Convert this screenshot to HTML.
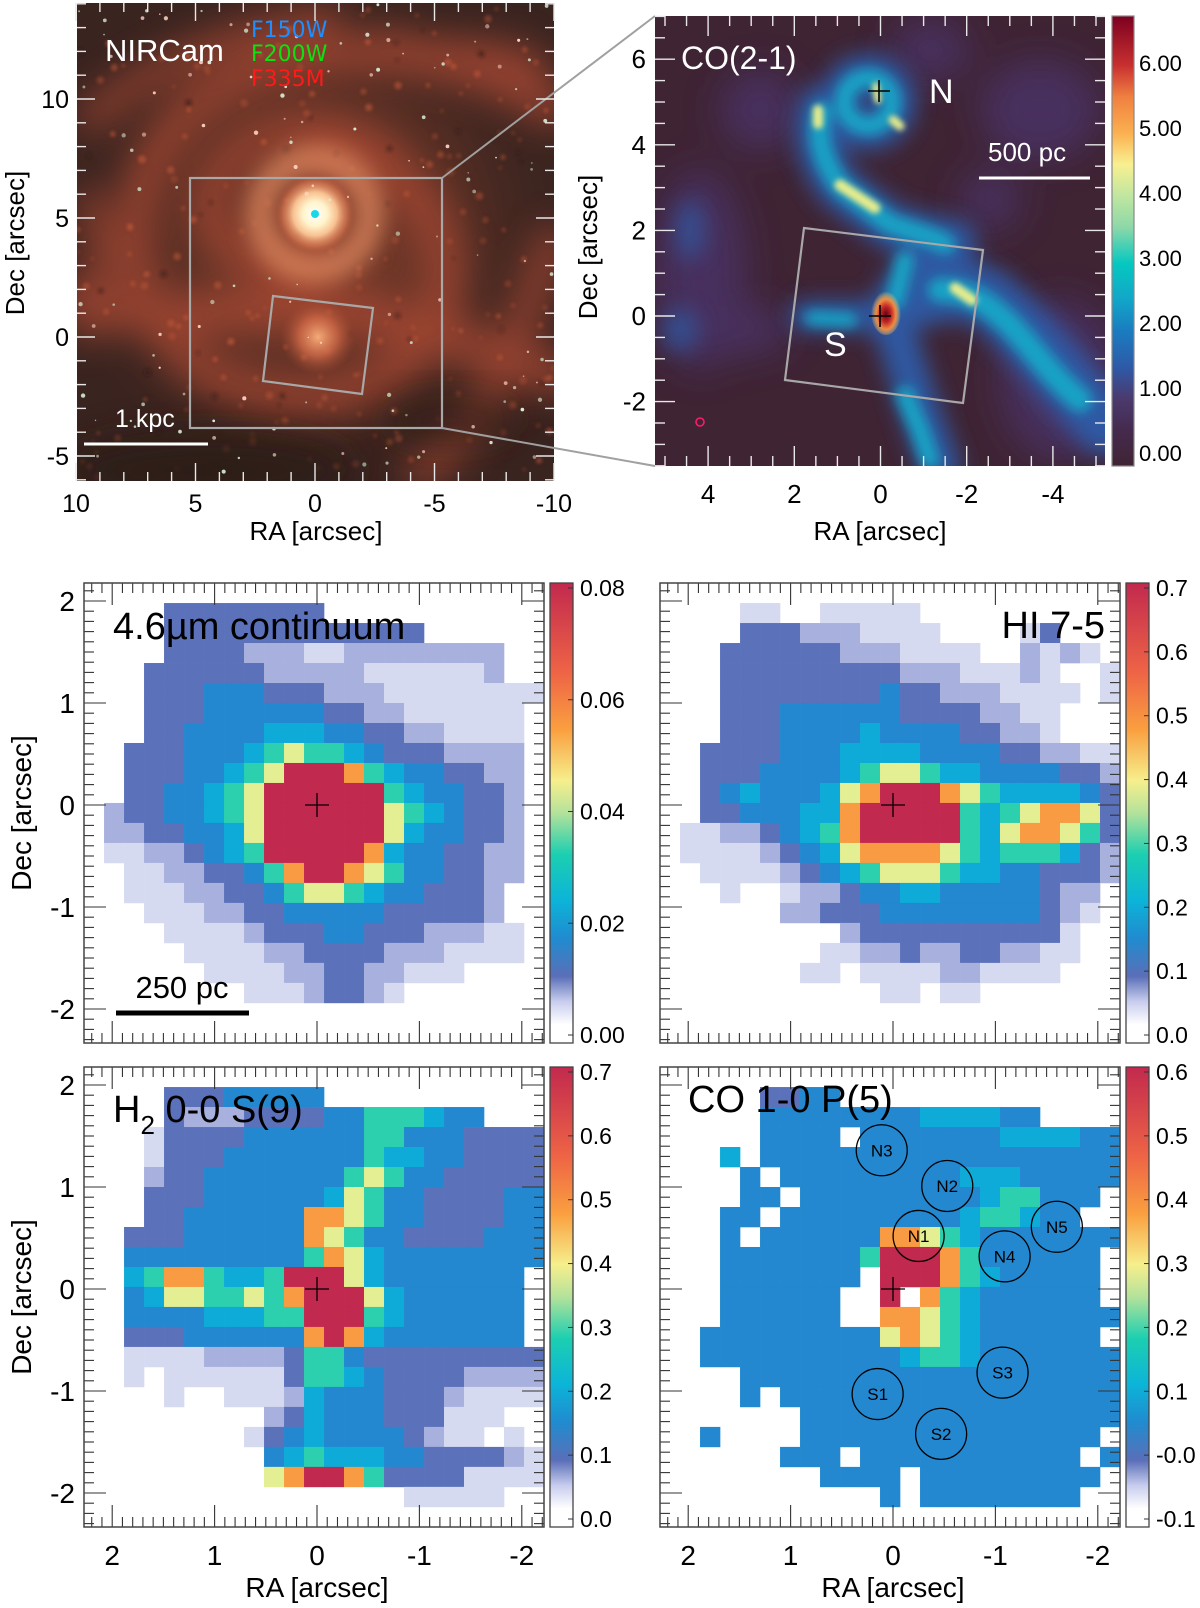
<!DOCTYPE html>
<html><head><meta charset="utf-8"><title>NIRCam / CO / NIRSpec maps</title>
<style>
html,body{margin:0;padding:0;background:#fff;}
svg{display:block;font-family:"Liberation Sans","DejaVu Sans",sans-serif;}
</style></head>
<body>
<svg id="fig" width="1200" height="1608" viewBox="0 0 1200 1608" xmlns="http://www.w3.org/2000/svg">
<defs>
  <filter id="b2" x="-50%" y="-50%" width="200%" height="200%"><feGaussianBlur stdDeviation="1.5"/></filter>
  <filter id="b3" x="-50%" y="-50%" width="200%" height="200%"><feGaussianBlur stdDeviation="3"/></filter>
  <filter id="b5" x="-50%" y="-50%" width="200%" height="200%"><feGaussianBlur stdDeviation="6"/></filter>
  <filter id="b9" x="-50%" y="-50%" width="200%" height="200%"><feGaussianBlur stdDeviation="11"/></filter>
  <filter id="b16" x="-50%" y="-50%" width="200%" height="200%"><feGaussianBlur stdDeviation="18"/></filter>
  <clipPath id="clip1"><rect x="77" y="3" width="477" height="478"/></clipPath>
  <clipPath id="clip2"><rect x="655" y="16" width="450" height="450"/></clipPath>
  <radialGradient id="gBig" cx="0.5" cy="0.5" r="0.5">
    <stop offset="0" stop-color="#a04a32" stop-opacity="0.85"/>
    <stop offset="0.55" stop-color="#743828" stop-opacity="0.5"/>
    <stop offset="1" stop-color="#3b2520" stop-opacity="0"/>
  </radialGradient>
  <radialGradient id="gCore" cx="0.5" cy="0.5" r="0.5">
    <stop offset="0" stop-color="#ffffff"/>
    <stop offset="0.3" stop-color="#fff4cc"/>
    <stop offset="0.55" stop-color="#f8c090"/>
    <stop offset="0.8" stop-color="#e08058" stop-opacity="0.6"/>
    <stop offset="1" stop-color="#b05038" stop-opacity="0"/>
  </radialGradient>
  <radialGradient id="gSouth" cx="0.5" cy="0.5" r="0.5">
    <stop offset="0" stop-color="#f4aa78"/>
    <stop offset="0.5" stop-color="#d06a48" stop-opacity="0.8"/>
    <stop offset="1" stop-color="#a04a32" stop-opacity="0"/>
  </radialGradient>
  <radialGradient id="gRed" cx="0.5" cy="0.55" r="0.5">
    <stop offset="0" stop-color="#6a0010"/>
    <stop offset="0.35" stop-color="#c02828"/>
    <stop offset="0.65" stop-color="#f08a40"/>
    <stop offset="1" stop-color="#f6d070" stop-opacity="0"/>
  </radialGradient>
  <linearGradient id="cbTop" x1="0" y1="1" x2="0" y2="0">
    <stop offset="0" stop-color="#3f2434"/>
    <stop offset="0.08" stop-color="#452a4e"/>
    <stop offset="0.15" stop-color="#4b3a6e"/>
    <stop offset="0.22" stop-color="#2e5aa8"/>
    <stop offset="0.30" stop-color="#1a7cc0"/>
    <stop offset="0.37" stop-color="#12a6c8"/>
    <stop offset="0.45" stop-color="#05c8c0"/>
    <stop offset="0.53" stop-color="#8cd8a8"/>
    <stop offset="0.60" stop-color="#c0e6a0"/>
    <stop offset="0.67" stop-color="#f8f090"/>
    <stop offset="0.74" stop-color="#fbb050"/>
    <stop offset="0.82" stop-color="#f08040"/>
    <stop offset="0.89" stop-color="#c83030"/>
    <stop offset="1" stop-color="#7c0020"/>
  </linearGradient>
  <linearGradient id="cbBot" x1="0" y1="1" x2="0" y2="0">
    <stop offset="0" stop-color="#ffffff"/>
    <stop offset="0.04" stop-color="#ffffff"/>
    <stop offset="0.09" stop-color="#c8cdee"/>
    <stop offset="0.145" stop-color="#5a6fb8"/>
    <stop offset="0.23" stop-color="#1f8cd0"/>
    <stop offset="0.31" stop-color="#0cb4d8"/>
    <stop offset="0.41" stop-color="#1ccfb0"/>
    <stop offset="0.50" stop-color="#b4e29a"/>
    <stop offset="0.57" stop-color="#f6ef8c"/>
    <stop offset="0.68" stop-color="#faa040"/>
    <stop offset="0.80" stop-color="#ef6645"/>
    <stop offset="1" stop-color="#c2294e"/>
  </linearGradient>
</defs>

<!-- ============ Panel 1: NIRCam composite ============ -->
<g>
  <g clip-path="url(#clip1)">
    <rect x="77" y="3" width="477" height="478" fill="#3a2420"/>
    <circle cx="315" cy="235" r="270" fill="url(#gBig)"/>
    <g fill="none" stroke="#b04c34" stroke-linecap="round" filter="url(#b16)" opacity="0.75">
      <path d="M315,160 C420,150 470,250 430,330 C390,410 250,420 180,350 C110,280 120,150 220,90 C320,30 460,50 554,110" stroke-width="36"/>
      <path d="M315,268 C220,272 180,210 230,160 C280,110 380,120 410,190" stroke-width="28"/>
      <path d="M76,300 C150,330 250,300 330,310 C420,320 480,350 554,375" stroke-width="40"/>
      <path d="M90,120 C150,60 250,30 330,20" stroke-width="26"/>
      <path d="M554,240 C520,320 500,420 420,470" stroke-width="30"/>
      <path d="M380,40 C450,60 500,40 540,70" stroke-width="24"/>
      <path d="M90,200 C110,260 100,300 90,330" stroke-width="24"/>
    </g>
    <g id="clumps" filter="url(#b2)"></g>
    <ellipse cx="210" cy="470" rx="150" ry="40" fill="#2c1a17" filter="url(#b16)" opacity="0.8"/>
    <ellipse cx="450" cy="420" rx="70" ry="25" fill="#2c1a17" filter="url(#b16)" opacity="0.6"/>
    <circle cx="315" cy="214" r="55" fill="none" stroke="#e08a60" stroke-width="28" filter="url(#b9)" opacity="0.75"/>
    <circle cx="318" cy="337" r="38" fill="url(#gSouth)"/>
    <circle cx="315" cy="214" r="40" fill="url(#gCore)"/>
    <circle cx="315" cy="214" r="4" fill="#18d8e8"/>
    <g id="stars"></g>
  </g>
  <rect x="190" y="178" width="252" height="250" fill="none" stroke="#a8a8a8" stroke-width="2.2"/>
  <polygon points="273,296 373,308 362,394 263,381" fill="none" stroke="#a8a8a8" stroke-width="2.2"/>
  <line x1="442" y1="178" x2="655" y2="16" stroke="#a0a0a0" stroke-width="2"/>
  <line x1="442" y1="428" x2="655" y2="466" stroke="#a0a0a0" stroke-width="2"/>
  <text x="105" y="61" font-size="31" fill="#ffffff">NIRCam</text>
  <text x="251" y="37" font-size="22" fill="#1e8fff" font-family="DejaVu Sans, sans-serif">F150W</text>
  <text x="251" y="61" font-size="22" fill="#10e010" font-family="DejaVu Sans, sans-serif">F200W</text>
  <text x="251" y="86" font-size="22" fill="#ff1a1a" font-family="DejaVu Sans, sans-serif">F335M</text>
  <line x1="84" y1="444" x2="208" y2="444" stroke="#ffffff" stroke-width="3"/>
  <text x="115" y="427" font-size="25" fill="#ffffff">1 kpc</text>
  <g id="ticks1"></g>
  <text x="316" y="540" font-size="26" text-anchor="middle">RA [arcsec]</text>
  <text transform="translate(24,243) rotate(-90)" font-size="26" text-anchor="middle">Dec [arcsec]</text>
</g>

<!-- ============ Panel 2: CO(2-1) ============ -->
<g>
  <g clip-path="url(#clip2)">
    <rect x="655" y="16" width="450" height="450" fill="#3f2434"/>
    <g fill="#4a3264" filter="url(#b16)" opacity="0.9">
      <ellipse cx="700" cy="270" rx="45" ry="100"/>
      <ellipse cx="1040" cy="110" rx="60" ry="50"/>
      <ellipse cx="1060" cy="380" rx="60" ry="80"/>
      <ellipse cx="760" cy="110" rx="40" ry="40"/>
      <ellipse cx="990" cy="200" rx="30" ry="30"/>
      <ellipse cx="740" cy="330" rx="50" ry="25"/>
      <ellipse cx="930" cy="50" rx="40" ry="30"/>
    </g>
    <g fill="#2f5ca8" filter="url(#b9)" opacity="0.7">
      <ellipse cx="680" cy="330" rx="18" ry="22"/>
      <ellipse cx="690" cy="230" rx="14" ry="30"/>
    </g>
    <g fill="none" stroke-linecap="round" stroke-linejoin="round">
      <g stroke="#2f5ca8" filter="url(#b9)" opacity="0.95">
        <path d="M820,108 C812,140 822,165 840,188 L890,226 C915,234 940,240 955,242 L920,262 L905,295 L886,318" stroke-width="44"/>
        <path d="M905,300 C940,290 970,285 990,300 C1015,320 1040,350 1070,385 L1105,425" stroke-width="60"/>
        <path d="M895,330 L912,385 L925,425 L940,466" stroke-width="40"/>
        <path d="M805,316 L870,316" stroke-width="30"/>
        <circle cx="868" cy="102" r="28" stroke-width="40"/>
      </g>
      <g stroke="#14a8c8" filter="url(#b5)" opacity="0.95">
        <path d="M822,112 C815,140 824,162 840,186 L890,224 C915,232 935,238 945,244" stroke-width="20"/>
        <path d="M940,290 C965,290 985,300 1010,325 C1030,345 1050,375 1080,400" stroke-width="24"/>
        <path d="M905,395 L920,430 L930,460" stroke-width="18"/>
        <path d="M812,318 L850,320" stroke-width="14"/>
        <circle cx="868" cy="102" r="24" stroke-width="18"/>
        <path d="M905,260 L895,300" stroke-width="18"/>
      </g>
      <g stroke="#e8ec8c" filter="url(#b3)">
        <path d="M840,185 L875,208" stroke-width="11"/>
        <path d="M818,110 L818,124" stroke-width="10"/>
        <path d="M955,288 L972,300" stroke-width="11"/>
        <path d="M893,120 L900,126" stroke-width="9"/>
        <path d="M876,86 L878,100" stroke-width="7"/>
      </g>
    </g>
    <ellipse cx="886" cy="312" rx="15" ry="23" fill="url(#gRed)"/>
    <circle cx="700" cy="422" r="4" fill="none" stroke="#ff1a6a" stroke-width="1.6"/>
  </g>
  <polygon points="804,228 983,250 963,403 785,380" fill="none" stroke="#a8a8a8" stroke-width="2.2"/>
  <g stroke="#000" stroke-width="1.6">
    <line x1="868" y1="91" x2="890" y2="91"/><line x1="879" y1="80" x2="879" y2="102"/>
    <line x1="869" y1="316" x2="891" y2="316"/><line x1="880" y1="305" x2="880" y2="327"/>
  </g>
  <text x="681" y="69" font-size="32" fill="#ffffff">CO(2-1)</text>
  <text x="929" y="103" font-size="34" fill="#ffffff">N</text>
  <text x="824" y="356" font-size="34" fill="#ffffff">S</text>
  <text x="988" y="161" font-size="26" fill="#ffffff">500 pc</text>
  <line x1="979" y1="178" x2="1090" y2="178" stroke="#ffffff" stroke-width="3"/>
  <g id="ticks2"></g>
  <rect x="1112" y="16" width="22" height="450" fill="url(#cbTop)" stroke="#888" stroke-width="1.2"/>
  <text x="880" y="540" font-size="26" text-anchor="middle">RA [arcsec]</text>
  <text transform="translate(597,247) rotate(-90)" font-size="26" text-anchor="middle">Dec [arcsec]</text>
</g>

<g id="bottom"></g>
</svg>

<script>
const NS = 'http://www.w3.org/2000/svg';
const svg = document.getElementById('fig');
function mk(tag, attrs, parent) {
  const e = document.createElementNS(NS, tag);
  for (const k in attrs) e.setAttribute(k, attrs[k]);
  (parent || svg).appendChild(e);
  return e;
}

/* ---------- data: colorbar ticks ---------- */
const co21CbTicks = [0, 1, 2, 3, 4, 5, 6];
const co21CbLabels = ['0.00','1.00','2.00','3.00','4.00','5.00','6.00'];
const contCbTicks = [0, 0.02, 0.04, 0.06, 0.08];
const contCbLabels = ['0.00','0.02','0.04','0.06','0.08'];
const hiCbTicks = [0, 0.1, 0.2, 0.3, 0.4, 0.5, 0.6, 0.7];
const hiCbLabels = ['0.0','0.1','0.2','0.3','0.4','0.5','0.6','0.7'];
const h2CbTicks = [0, 0.1, 0.2, 0.3, 0.4, 0.5, 0.6, 0.7];
const h2CbLabels = ['0.0','0.1','0.2','0.3','0.4','0.5','0.6','0.7'];
const coCbTicks = [-0.1, 0, 0.1, 0.2, 0.3, 0.4, 0.5, 0.6];
const coCbLabels = ['-0.1','-0.0','0.1','0.2','0.3','0.4','0.5','0.6'];

/* ---------- data: axis ticks ---------- */
const nirRaTicks = [10, 5, 0, -5, -10];
const nirDecTicks = [10, 5, 0, -5];
const coRaTicks = [4, 2, 0, -2, -4];
const coDecTicks = [6, 4, 2, 0, -2];
const mapRaTicks = [2, 1, 0, -1, -2];
const mapDecTicks = [2, 1, 0, -1, -2];

/* ---------- data: apertures on CO 1-0 P(5) ---------- */
const apNames = ['N3','N2','N1','N4','N5','S1','S2','S3'];
const apRA    = [0.11, -0.53, -0.25, -1.09, -1.60, 0.15, -0.47, -1.07];
const apDec   = [1.36, 1.01, 0.52, 0.32, 0.61, -1.03, -1.42, -0.82];

/* ---------- data: map pixel levels (rows N->S, cols E->W) ---------- */
const contGrid = [
".......................",
"....33333333...........",
"....3333333333333......",
"....33332221122222222..",
"...333333222221111112..",
"...33344433322211111111",
"...3334444443322111111.",
"...3344445554433221111.",
"..33344456766543332222.",
"..33344567999865443322.",
"..33445679999996544332.",
".233445679999997654332.",
".223344579999997544332.",
".112234569999985443322.",
"..11223346899876443322.",
"..1112233467765443332..",
"...111223344444333332..",
"....111123334433322211.",
".....11112233332221111.",
"......1111223322111....",
"........11123321.......",
".......................",
"......................."];
const hiGrid = [
".......................",
"....11..11111..........",
"....3332221111....13...",
"...3333332221111..2121.",
"...33333333322211121..1",
"...333333334332221111.1",
"...33344444433332211...",
"...33344445444433221...",
"..3333444555544443322111",
"..33344445677655444433221",
"..3454445789998765555432.",
"..3344455899999656788732.",
".11223456899999657887632.",
".1111234578888765666532.",
"..1111234567776554433321.",
"...1..1223445544444322..",
"......2233344444444321..",
".........233333333331...",
"........1122322332211...",
".......11.1111221111....",
"...........11.11........",
".......................",
"......................."];
const h2Grid = [
".......................",
"....33344444...........",
"....3222333344666544...",
"...13333444444664443333",
"...13334444444655443333",
"...23344444446764433333",
"...33344444457644333344",
"...33444444887644333344",
"..333444444876443333444",
"..444444444687544444444",
"..56886556999754444444",
"..45776676899975444444",
"..44445556699965444444",
"..33344444489854444444",
"..1111222236643333333333",
"..1.1111113665433332222",
"....1..1112544433321111",
".........235444333111..",
"........134544443211.1.",
".........45655544333321",
".........78998633331111",
"................11111..",
"......................."];
const coGrid = [
".......................",
".....3344..............",
".....44444444555544....",
".....4444.44444445555444",
"...5.444444444444444444",
"....4.44444444455544444",
"....44.444444444566444.",
"...44.444444444566544..",
"...4.444444887654444444",
"...4444444699986444444.",
"...4444444.99986544444.",
"...444444..9.865444444.",
"...444444..887654444444",
"..44444444478765444444.",
"..444444444456654444444",
"....4444444444444444444",
"....4.44444444444444444",
".......4444444444444444",
"..4....444444444444444.",
"......444.44444444444.4",
"........4444.444444444.",
"...........4.44444444..",
"......................."];
const palette = {'0':'#f4f5fc','1':'#d6daf1','2':'#a8b1dd','3':'#5b72bb','4':'#2388cf','5':'#0eaad8','6':'#2ccfae','7':'#e4ee92','8':'#f89b42','9':'#c1294f'};

/* ---------- top panels: ticks ---------- */
(function(){
  const g1 = document.getElementById('ticks1');
  const x1 = ra => 315 - ra * 23.9;
  const y1 = dec => 337 - dec * 23.8;
  for (let ra = -10; ra <= 10; ra++) {
    const x = x1(ra), L = (ra % 5 === 0) ? 18 : 9;
    mk('line', {x1:x, y1:481, x2:x, y2:481-L, stroke:'#e8e8e8', 'stroke-width':1.4}, g1);
    mk('line', {x1:x, y1:3, x2:x, y2:3+L, stroke:'#e8e8e8', 'stroke-width':1.4}, g1);
  }
  for (let d = -6; d <= 14; d++) {
    const y = y1(d), L = (d % 5 === 0) ? 18 : 9;
    mk('line', {x1:77, y1:y, x2:77+L, y2:y, stroke:'#e8e8e8', 'stroke-width':1.4}, g1);
    mk('line', {x1:554, y1:y, x2:554-L, y2:y, stroke:'#e8e8e8', 'stroke-width':1.4}, g1);
  }
  nirRaTicks.forEach(v => {
    const t = mk('text', {x:x1(v), y:512, 'font-size':25, 'text-anchor':'middle'}, g1);
    t.textContent = String(v);
    
    
  });
  nirDecTicks.forEach(v => {
    const t = mk('text', {x:69, y:y1(v)+9, 'font-size':25, 'text-anchor':'end'}, g1);
    t.textContent = String(v);
    
    
  });

  const g2 = document.getElementById('ticks2');
  const x2 = ra => 880.5 - ra * 43.1;
  const y2 = dec => 316 - dec * 42.8;
  for (let k = -10; k <= 10; k++) {
    const ra = k / 2, x = x2(ra);
    if (x < 655 || x > 1105) continue;
    const L = (k % 4 === 0) ? 20 : 10;
    mk('line', {x1:x, y1:466, x2:x, y2:466-L, stroke:'#e8e8e8', 'stroke-width':1.4}, g2);
    mk('line', {x1:x, y1:16, x2:x, y2:16+L, stroke:'#e8e8e8', 'stroke-width':1.4}, g2);
  }
  for (let k = -7; k <= 14; k++) {
    const d = k / 2, y = y2(d);
    if (y < 16 || y > 466) continue;
    const L = (k % 4 === 0) ? 20 : 10;
    mk('line', {x1:655, y1:y, x2:655+L, y2:y, stroke:'#e8e8e8', 'stroke-width':1.4}, g2);
    mk('line', {x1:1105, y1:y, x2:1105-L, y2:y, stroke:'#e8e8e8', 'stroke-width':1.4}, g2);
  }
  coRaTicks.forEach(v => {
    const t = mk('text', {x:x2(v), y:503, 'font-size':26, 'text-anchor':'middle'}, g2);
    t.textContent = String(v);
    
    
  });
  coDecTicks.forEach(v => {
    const t = mk('text', {x:646, y:y2(v)+9, 'font-size':26, 'text-anchor':'end'}, g2);
    t.textContent = String(v);
    
    
  });
  const cy = v => 453 - v * 65.0;
  co21CbTicks.forEach((v, i) => {
    mk('line', {x1:1134, y1:cy(v), x2:1128, y2:cy(v), stroke:'#333', 'stroke-width':1}, g2);
    const t = mk('text', {x:1139, y:cy(v)+8, 'font-size':22}, g2);
    t.textContent = co21CbLabels[i];
    
    
  });

  // decorative clumps and stars
  let s = 12345;
  const rnd = () => { s = (s * 1103515245 + 12345) % 2147483648; return s / 2147483648; };
  const cg = document.getElementById('clumps');
  for (let i = 0; i < 220; i++) {
    mk('circle', {cx:77 + rnd()*477, cy:3 + rnd()*478, r:1.5 + rnd()*2.5,
      fill: rnd() < 0.8 ? '#d0603e' : '#2e1c18', opacity: 0.25 + rnd()*0.3}, cg);
  }
  const sg = document.getElementById('stars');
  for (let i = 0; i < 130; i++) {
    mk('circle', {cx:77 + rnd()*477, cy:3 + rnd()*478, r:0.7 + rnd()*1.5,
      fill: rnd() < 0.5 ? '#d8f0d8' : '#ffd8c8', opacity: 0.5 + rnd()*0.5}, sg);
  }
})();

/* ---------- bottom panels ---------- */
const bottom = document.getElementById('bottom');
function xs(p, ra) { return p.left + 233 - ra * 102.4; }
function ys(p, dec) { return p.top + 222 - dec * 102; }

function drawPanel(p, grid, name, title, cbTicks, cbLabels, opts) {
  const g = mk('g', {}, bottom);
  
  
  const img = mk('g', {}, g);
  
  
  for (let i = 0; i < 23; i++) {
    const row = grid[i] || '';
    for (let j = 0; j < 23; j++) {
      const ch = row[j];
      if (!ch || ch === '.') continue;
      const ra = 2.275 - j * 0.1953, dec = 2.176 - i * 0.196;
      const r = mk('rect', {x:xs(p, ra), y:ys(p, dec), width:20.3, height:20.3, fill:palette[ch]}, img);
      
      
    }
  }
  const cx = xs(p, 0), cyv = ys(p, 0);
  mk('line', {x1:cx-12, y1:cyv, x2:cx+12, y2:cyv, stroke:'#000', 'stroke-width':1.3}, g);
  mk('line', {x1:cx, y1:cyv-12, x2:cx, y2:cyv+12, stroke:'#000', 'stroke-width':1.3}, g);
  const tg = mk('g', {stroke:'#333', 'stroke-width':1.1}, g);
  
  
  for (let k = -23; k <= 23; k++) {
    const L = (k % 10 === 0) ? 22 : 10;
    const x = xs(p, k / 10);
    if (x > p.left + 1 && x < p.left + 459) {
      mk('line', {x1:x, y1:p.top+460, x2:x, y2:p.top+460-L}, tg);
      mk('line', {x1:x, y1:p.top, x2:x, y2:p.top+L}, tg);
    }
    const y = ys(p, k / 10);
    if (y > p.top + 1 && y < p.top + 459) {
      mk('line', {x1:p.left, y1:y, x2:p.left+L, y2:y}, tg);
      mk('line', {x1:p.left+460, y1:y, x2:p.left+460-L, y2:y}, tg);
    }
  }
  const fr = mk('rect', {x:p.left, y:p.top, width:460, height:460, fill:'none', stroke:'#444', 'stroke-width':1.5}, g);
  
  
  const tt = mk('text', {x: opts.tx, y: opts.ty, 'font-size':38, 'text-anchor': opts.anchor || 'start'}, g);
  tt.innerHTML = title;
  
  
  const cbx = p.left + 466;
  const cb = mk('rect', {x:cbx, y:p.top, width:23, height:460, fill:'url(#cbBot)', stroke:'#444', 'stroke-width':1.3}, g);
  
  
  const lo = cbTicks[0], hi = cbTicks[cbTicks.length - 1];
  const cby = v => (p.top + 5) + (hi - v) / (hi - lo) * 447;
  cbTicks.forEach((v, i) => {
    mk('line', {x1:cbx+23, y1:cby(v), x2:cbx+18, y2:cby(v), stroke:'#333', 'stroke-width':1}, g);
    const t = mk('text', {x:cbx+30, y:cby(v)+8, 'font-size':23}, g);
    t.textContent = cbLabels[i];
    
    
  });
  if (opts.decLabels) {
    mapDecTicks.forEach(v => {
      const t = mk('text', {x:p.left-9, y:ys(p, v)+10, 'font-size':28, 'text-anchor':'end'}, g);
      t.textContent = String(v);
      
      
    });
    const yt = mk('text', {transform:'translate(31,' + (p.top+230) + ') rotate(-90)', 'font-size':28, 'text-anchor':'middle'}, g);
    yt.textContent = 'Dec [arcsec]';
    
    
  }
  if (opts.raLabels) {
    mapRaTicks.forEach(v => {
      const t = mk('text', {x:xs(p, v), y:p.top+498, 'font-size':28, 'text-anchor':'middle'}, g);
      t.textContent = String(v);
      
      
    });
    const xt = mk('text', {x:xs(p, 0), y:p.top+530, 'font-size':28, 'text-anchor':'middle'}, g);
    xt.textContent = 'RA [arcsec]';
    
    
  }
  return g;
}

const P3 = {left:84, top:583}, P4 = {left:660, top:583}, P5 = {left:84, top:1067}, P6 = {left:660, top:1067};

const g3 = drawPanel(P3, contGrid, 'continuum', '4.6µm continuum', contCbTicks, contCbLabels, {tx:113, ty:639, decLabels:true});
const sb = mk('line', {x1:116, y1:1013, x2:249, y2:1013, stroke:'#000', 'stroke-width':5}, g3);


const sbt = mk('text', {x:182, y:998, 'font-size':31, 'text-anchor':'middle'}, g3);
sbt.textContent = '250 pc';



drawPanel(P4, hiGrid, 'hi75', 'HI 7-5', hiCbTicks, hiCbLabels, {tx:1105, ty:638, anchor:'end'});
drawPanel(P5, h2Grid, 'h2s9', 'H<tspan font-size="26" dy="12">2</tspan><tspan dy="-12"> 0-0 S(9)</tspan>', h2CbTicks, h2CbLabels, {tx:113, ty:1122, decLabels:true, raLabels:true});
const g6 = drawPanel(P6, coGrid, 'co10p5', 'CO 1-0 P(5)', coCbTicks, coCbLabels, {tx:688, ty:1112, raLabels:true});

apNames.forEach((n, i) => {
  const cx = xs(P6, apRA[i]), cy = ys(P6, apDec[i]);
  const c = mk('circle', {cx:cx, cy:cy, r:25.5, fill:'none', stroke:'#000', 'stroke-width':1.3}, g6);
  
  
  const t = mk('text', {x:cx, y:cy+6, 'font-size':17, 'text-anchor':'middle'}, g6);
  t.textContent = n;
  
  
});
</script>
</body></html>
